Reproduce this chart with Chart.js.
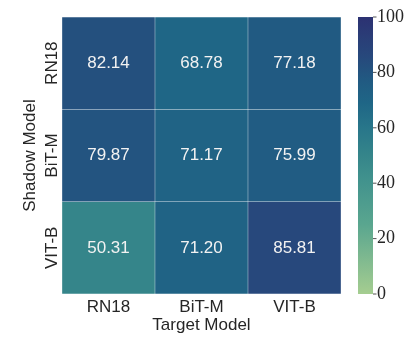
<!DOCTYPE html>
<html>
<head>
<meta charset="utf-8">
<script src="https://cdn.jsdelivr.net/npm/chart.js@4"></script>
<style>
  html, body { margin: 0; padding: 0; background: #fff; }
</style>
</head>
<body>
<canvas id="miGrafica" width="415" height="346"></canvas>
<script>
const target_models = ['RN18', 'BiT-M', 'VIT-B'];
const shadow_models = ['RN18', 'BiT-M', 'VIT-B'];
// one row per shadow model, one value per target model
const fila_rn18 = [82.14, 68.78, 77.18];
const fila_bitm = [79.87, 71.17, 75.99];
const fila_vitb = [50.31, 71.20, 85.81];
const colorbar_min = 0;
const colorbar_max = 100;
const colorbar_step = 20;

const filas = [fila_rn18, fila_bitm, fila_vitb];

// seaborn "crest"
const crest = [
    [0.00, [165, 205, 144]],
    [0.25, [90, 166, 143]],
    [0.42, [64, 145, 141]],
    [0.50, [53, 133, 138]],
    [0.60, [40, 118, 138]],
    [0.69, [31, 102, 134]],
    [0.77, [33, 90, 130]],
    [0.82, [36, 80, 126]],
    [0.86, [39, 72, 124]],
    [0.93, [42, 61, 119]],
    [1.00, [44, 49, 114]],
];

const colorCrest = (v) => {
    let t = (v - colorbar_min) / (colorbar_max - colorbar_min);
    t = Math.max(0, Math.min(1, t));
    for (let i = 1; i < crest.length; i++) {
        if (t <= crest[i][0]) {
            const a = crest[i - 1], b = crest[i];
            const f = (t - a[0]) / (b[0] - a[0]);
            const c = a[1].map((x, k) => Math.round(x + (b[1][k] - x) * f));
            return `rgb(${c[0]}, ${c[1]}, ${c[2]})`;
        }
    }
    return 'rgb(44, 49, 114)';
};

const texto = '#262626';
const sans = "'Liberation Sans', Arial, sans-serif";
const serif = "'Liberation Serif', 'Times New Roman', serif";

const canva_grafica = document.getElementById('miGrafica').getContext('2d');

// cell values, rotated y labels and the colorbar
const pluginHeatmap = {
    id: 'heatmap',
    afterDatasetsDraw(chart) {
        const ctx = chart.ctx;
        ctx.save();
        ctx.fillStyle = '#f2f2f2';
        ctx.font = `17px ${sans}`;
        ctx.textAlign = 'center';
        ctx.textBaseline = 'middle';
        chart.data.datasets.forEach((ds, i) => {
            const meta = chart.getDatasetMeta(i);
            meta.data.forEach((bar, j) => {
                const props = bar.getProps(['x', 'y', 'base'], true);
                ctx.fillText(ds.valores[j].toFixed(2), props.x, (props.y + props.base) / 2);
            });
        });
        ctx.restore();
    },
    afterDraw(chart) {
        const ctx = chart.ctx;
        const y = chart.scales.y;
        const cb = chart.scales.cb;
        const area = chart.chartArea;
        ctx.save();
        ctx.fillStyle = texto;
        ctx.font = `17px ${sans}`;
        ctx.textAlign = 'center';
        ctx.textBaseline = 'middle';
        shadow_models.forEach((nombre, i) => {
            ctx.save();
            ctx.translate(52, y.getPixelForValue(i + 0.5));
            ctx.rotate(-Math.PI / 2);
            ctx.fillText(nombre, 0, 0);
            ctx.restore();
        });
        ctx.save();
        ctx.translate(30, (area.top + area.bottom) / 2);
        ctx.rotate(-Math.PI / 2);
        ctx.fillText('Shadow Model', 0, 0);
        ctx.restore();

        // colorbar
        const x0 = 358, x1 = 373;
        const yTop = cb.getPixelForValue(colorbar_max);
        const yBot = cb.getPixelForValue(colorbar_min);
        const grad = ctx.createLinearGradient(0, yBot, 0, yTop);
        crest.forEach(s => grad.addColorStop(s[0], `rgb(${s[1].join(',')})`));
        ctx.fillStyle = grad;
        ctx.fillRect(x0, yTop, x1 - x0, yBot - yTop);
        ctx.strokeStyle = texto;
        ctx.lineWidth = 0.8;
        cb.ticks.forEach(t => {
            const py = cb.getPixelForValue(t.value);
            ctx.beginPath();
            ctx.moveTo(x1, py);
            ctx.lineTo(x1 + 3.5, py);
            ctx.stroke();
        });
        ctx.restore();
    }
};

const grafica_char = new Chart(canva_grafica, {
    type: 'bar',
    data: {
        labels: target_models,
        datasets: filas.map((fila, i) => ({
            label: shadow_models[i],
            valores: fila,
            data: fila.map(() => [i, i + 1]),
            backgroundColor: fila.map(colorCrest),
            borderColor: 'rgba(255, 255, 255, 0.3)',
            borderWidth: 0.5,
            borderSkipped: false,
            barPercentage: 1,
            categoryPercentage: 1,
        })),
    },
    options: {
        responsive: false,
        animation: false,
        layout: { padding: { top: 17, left: 0, right: 0, bottom: 0 } },
        plugins: {
            legend: { display: false },
            tooltip: { enabled: false },
        },
        scales: {
            x: {
                stacked: true,
                grid: { display: false, drawTicks: false },
                border: { display: false },
                ticks: { color: texto, font: { family: sans, size: 17 }, padding: 3 },
                title: {
                    display: true,
                    text: 'Target Model',
                    color: texto,
                    font: { family: sans, size: 17 },
                    padding: { top: 10, bottom: 10 },
                },
                afterFit: (scale) => { scale.height = 52; },
            },
            y: {
                stacked: false,
                min: 0,
                max: 3,
                reverse: true,
                grid: { display: false, drawTicks: false },
                border: { display: false },
                ticks: { display: false },
                afterFit: (scale) => { scale.width = 62; },
            },
            cb: {
                type: 'linear',
                position: 'right',
                min: colorbar_min,
                max: colorbar_max,
                // tick length only pushes the labels past the colorbar, the grid itself is hidden
                grid: { display: false, drawTicks: true, tickLength: 33 },
                border: { display: false },
                ticks: {
                    stepSize: colorbar_step,
                    color: texto,
                    font: { family: serif, size: 18 },
                    padding: 3,
                },
                afterFit: (scale) => { scale.width = 74; },
            },
        },
    },
    plugins: [pluginHeatmap],
});
</script>
</body>
</html>
